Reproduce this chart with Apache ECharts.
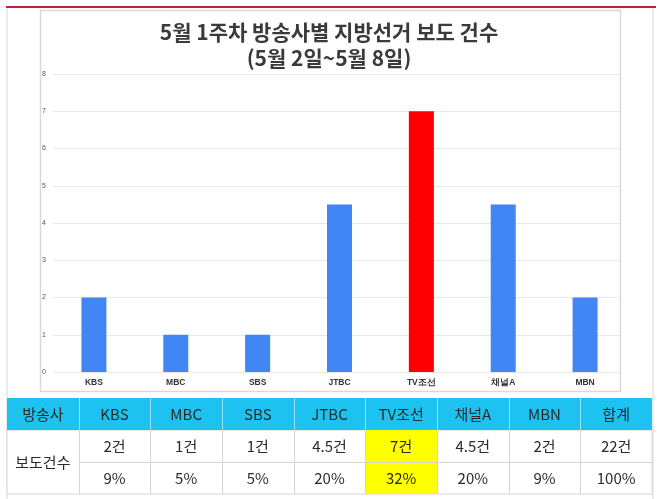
<!DOCTYPE html>
<html>
<head>
<meta charset="utf-8">
<script src="https://cdn.jsdelivr.net/npm/echarts@6/dist/echarts.min.js"></script>
<style>
html,body{margin:0;padding:0;background:#fff;}
#chart{width:658px;height:499px;}
</style>
</head>
<body>
<div id="chart"></div>
<script>
// ---- data ----
const categories = ['KBS', 'MBC', 'SBS', 'JTBC', 'TV조선', '채널A', 'MBN'];
const counts = [2, 1, 1, 4.5, 7, 4.5, 2];
const highlightCategory = 'TV조선';
const yMin = 0, yMax = 8, yInterval = 1;
const titleLines = ['5월 1주차 방송사별 지방선거 보도 건수', '(5월 2일~5월 8일)'];
const headerLabels = ['방송사', 'KBS', 'MBC', 'SBS', 'JTBC', 'TV조선', '채널A', 'MBN', '합계'];
const rowLabel = '보도건수';
const countLabels = ['2건', '1건', '1건', '4.5건', '7건', '4.5건', '2건', '22건'];
const pctLabels = ['9%', '5%', '5%', '20%', '32%', '20%', '9%', '100%'];

// ---- layout / style ----
const FONT = '"Noto Sans CJK KR", "Noto Sans", sans-serif';
const blue = '#4285F4', red = '#FF0000';
const tbl = { x0: 7, x1: 652, y: [398, 430, 462, 494] };
const colW = (tbl.x1 - tbl.x0) / headerLabels.length;

const graphics = [];
// outer frame
graphics.push({ type: 'line', shape: { x1: 7, y1: 7, x2: 7, y2: 499 }, style: { stroke: '#d6d6d6', lineWidth: 1 }, z: 1 });
graphics.push({ type: 'line', shape: { x1: 653, y1: 7, x2: 653, y2: 499 }, style: { stroke: '#d6d6d6', lineWidth: 1 }, z: 1 });
graphics.push({ type: 'line', shape: { x1: 6, y1: 7, x2: 656, y2: 7 }, style: { stroke: '#C41E3A', lineWidth: 2 }, z: 2 });
// chart box
graphics.push({ type: 'rect', shape: { x: 40.5, y: 10.5, width: 580, height: 381 }, style: { fill: 'transparent', stroke: '#d9d9d9', lineWidth: 1.5 }, z: 1 });

// table
const hY = tbl.y[0], hH = tbl.y[1] - tbl.y[0];
graphics.push({ type: 'rect', shape: { x: tbl.x0, y: tbl.y[1], width: tbl.x1 - tbl.x0, height: tbl.y[3] - tbl.y[1] }, style: { fill: '#fff', stroke: '#d4d4d4', lineWidth: 1 }, z: 3 });
graphics.push({ type: 'rect', shape: { x: tbl.x0, y: hY, width: tbl.x1 - tbl.x0, height: hH }, style: { fill: '#1DC2F1' }, z: 4 });
const hiIdx = headerLabels.indexOf(highlightCategory);
graphics.push({ type: 'rect', shape: { x: tbl.x0 + hiIdx * colW, y: tbl.y[1], width: colW, height: tbl.y[3] - tbl.y[1] }, style: { fill: '#FFFF00' }, z: 4 });
for (let i = 1; i < headerLabels.length; i++) {
  const x = Math.round(tbl.x0 + i * colW) + 0.5;
  graphics.push({ type: 'line', shape: { x1: x, y1: hY, x2: x, y2: tbl.y[1] }, style: { stroke: 'rgba(255,255,255,0.55)', lineWidth: 1 }, z: 5 });
  graphics.push({ type: 'line', shape: { x1: x, y1: tbl.y[1], x2: x, y2: tbl.y[3] }, style: { stroke: '#d4d4d4', lineWidth: 1 }, z: 5 });
}
graphics.push({ type: 'line', shape: { x1: tbl.x0 + colW, y1: tbl.y[2] + 0.5, x2: tbl.x1, y2: tbl.y[2] + 0.5 }, style: { stroke: '#d4d4d4', lineWidth: 1 }, z: 5 });
function cellText(txt, col, yTop, yBot) {
  graphics.push({ type: 'text', x: tbl.x0 + (col + 0.5) * colW, y: (yTop + yBot) / 2, z: 6,
    style: { text: txt, fill: '#2a2a2a', font: '15px ' + FONT, textAlign: 'center', textVerticalAlign: 'middle' } });
}
headerLabels.forEach((t, i) => cellText(t, i, tbl.y[0], tbl.y[1]));
cellText(rowLabel, 0, tbl.y[1], tbl.y[3]);
countLabels.forEach((t, i) => cellText(t, i + 1, tbl.y[1], tbl.y[2]));
pctLabels.forEach((t, i) => cellText(t, i + 1, tbl.y[2], tbl.y[3]));

const chart = echarts.init(document.getElementById('chart'), null, { renderer: 'canvas' });
chart.setOption({
  animation: false,
  backgroundColor: '#fff',
  title: {
    text: titleLines.join('\n'),
    left: 'center',
    top: 14,
    textStyle: { fontFamily: FONT, fontSize: 21, fontWeight: 'bold', color: '#3a3a3a', lineHeight: 26 }
  },
  grid: [
    { left: 53, top: 74, width: 573, height: 298 },
    { left: 53, top: 74, width: 566, height: 298 }
  ],
  xAxis: [
    { type: 'category', gridIndex: 0, data: categories,
      axisLine: { show: false }, axisTick: { show: false },
      axisLabel: { fontFamily: 'Liberation Sans, Arial, sans-serif', fontSize: 8.5, fontWeight: 'bold', color: '#333', margin: 6 } },
    { type: 'category', gridIndex: 1, data: categories, show: false }
  ],
  yAxis: [
    { type: 'value', gridIndex: 0, min: yMin, max: yMax, interval: yInterval, show: false, splitLine: { show: false } },
    { type: 'value', gridIndex: 1, min: yMin, max: yMax, interval: yInterval,
      axisLine: { show: false }, axisTick: { show: false },
      axisLabel: { fontFamily: 'Liberation Sans, Arial, sans-serif', fontSize: 7, color: '#555', margin: 7 },
      splitLine: { lineStyle: { color: '#e8e8e8', width: 1 } } }
  ],
  series: [{
    type: 'bar', xAxisIndex: 0, yAxisIndex: 0,
    barWidth: 25,
    data: counts.map((v, i) => ({ value: v, itemStyle: { color: categories[i] === highlightCategory ? red : blue } })),
    z: 3
  }],
  graphic: graphics
});
</script>
</body>
</html>
